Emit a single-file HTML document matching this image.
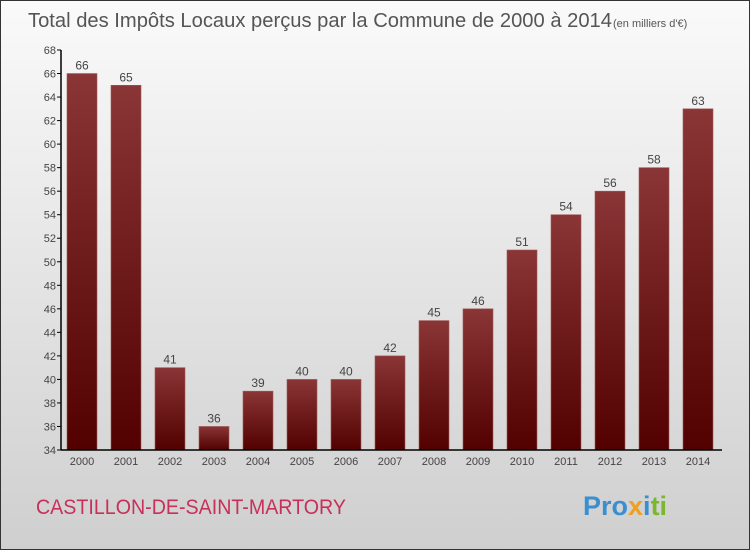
<!DOCTYPE html>
<html><head><meta charset="utf-8"><style>
body{margin:0;}
#c{width:750px;height:550px;position:relative;overflow:hidden;}
</style></head><body>
<div id="c">
<svg id="s" width="750" height="550" xmlns="http://www.w3.org/2000/svg" font-family="'Liberation Sans', sans-serif">
<defs>
<linearGradient id="bg" x1="0" y1="0" x2="0" y2="1"><stop offset="0" stop-color="#fafafa"/><stop offset="1" stop-color="#cfcfcf"/></linearGradient>
<linearGradient id="bar" x1="0" y1="0" x2="0" y2="1"><stop offset="0" stop-color="#8a3536"/><stop offset="1" stop-color="#520000"/></linearGradient>
</defs>
<rect x="0.5" y="0.5" width="749" height="549" fill="url(#bg)" stroke="#333"/>
<text x="28" y="27" font-size="20" fill="#555" textLength="584" lengthAdjust="spacingAndGlyphs">Total des Impôts Locaux perçus par la Commune de 2000 à 2014</text>
<text x="613" y="27" font-size="11" fill="#555">(en milliers d'€)</text>
<text x="36" y="514" font-size="21" fill="#c8305a" textLength="310" lengthAdjust="spacingAndGlyphs">CASTILLON-DE-SAINT-MARTORY</text>
<text x="583" y="515" font-size="27" font-weight="bold"><tspan fill="#3a8fd0">Pro</tspan><tspan fill="#f0a020">x</tspan><tspan fill="#3a8fd0">i</tspan><tspan fill="#7ab830">ti</tspan></text>
<g id="g"></g>
</svg>
</div>
<script>
const categories=["2000","2001","2002","2003","2004","2005","2006","2007","2008","2009","2010","2011","2012","2013","2014"];
const values=[66,65,41,36,39,40,40,42,45,46,51,54,56,58,63];
const yTicks=[34,36,38,40,42,44,46,48,50,52,54,56,58,60,62,64,66,68];
const NS="http://www.w3.org/2000/svg";
const gEl=document.getElementById('g');
const yMin=34,yMax=68,plotTop=50,plotBot=450,plotLeft=61;
function yS(v){return plotBot-(v-yMin)/(yMax-yMin)*(plotBot-plotTop);}
function xS(i){return 82+i*44;}
function el(t,a,txt){const e=document.createElementNS(NS,t);for(const k in a)e.setAttribute(k,a[k]);if(txt!==undefined)e.textContent=txt;gEl.appendChild(e);return e;}
values.forEach((v,i)=>{
 const r=el('rect',{x:xS(i)-15,y:yS(v),width:30,height:plotBot-yS(v),fill:'url(#bar)',stroke:'#a05a5a','stroke-width':0.6});
 
 
 const t=el('text',{x:xS(i),y:yS(v)-4,'text-anchor':'middle','font-size':12,fill:'#444'},String(v));
 
 
 const c=el('text',{x:xS(i),y:plotBot+15,'text-anchor':'middle','font-size':11,fill:'#444'},categories[i]);
 
 
});
yTicks.forEach(v=>{
 const l=el('line',{x1:plotLeft-4,x2:plotLeft,y1:yS(v),y2:yS(v),stroke:'#000'});
 
 
 const t=el('text',{x:plotLeft-5,y:yS(v)+4,'text-anchor':'end','font-size':11,fill:'#444'},String(v));
 
 
});
const ya=el('line',{x1:plotLeft,x2:plotLeft,y1:plotTop,y2:plotBot,stroke:'#000','stroke-width':1.5});


const xa=el('line',{x1:plotLeft,x2:722,y1:plotBot,y2:plotBot,stroke:'#000','stroke-width':1.5});


</script>
</body></html>
